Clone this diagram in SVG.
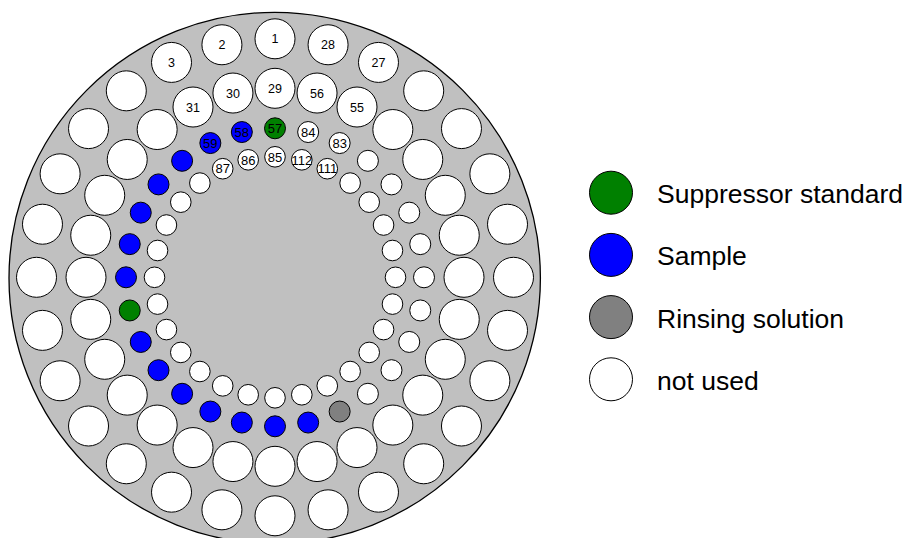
<svg xmlns="http://www.w3.org/2000/svg" width="905" height="538" viewBox="0 0 905 538">
<style>
circle{stroke:#000;stroke-width:1}
.w{fill:#fff}.b{fill:#0000ff}.g{fill:#008000}.r{fill:#808080}
.plate{fill:#c0c0c0;stroke:#000;stroke-width:1.3}
text{font-family:"Liberation Sans",Arial,sans-serif;fill:#000}
.n{font-size:12.5px;text-anchor:middle}
.s{font-size:13px;text-anchor:middle}
.lg{font-size:26.5px}
</style>
<rect width="905" height="538" fill="#fff"/>
<g id="plate"><circle class="plate" cx="274.7" cy="278" r="265.7"/></g>
<g id="ring1">
<g id="h1"><circle class="w" cx="275" cy="38.8" r="20"/><text class="n" x="275" y="43.3">1</text></g>
<g id="h2"><circle class="w" cx="221.93" cy="44.78" r="20"/><text class="n" x="221.93" y="49.3">2</text></g>
<g id="h3"><circle class="w" cx="171.52" cy="62.42" r="20"/><text class="n" x="171.52" y="66.9">3</text></g>
<g id="h4"><circle class="w" cx="126.3" cy="90.83" r="20"/></g>
<g id="h5"><circle class="w" cx="88.53" cy="128.6" r="20"/></g>
<g id="h6"><circle class="w" cx="60.12" cy="173.82" r="20"/></g>
<g id="h7"><circle class="w" cx="42.48" cy="224.23" r="20"/></g>
<g id="h8"><circle class="w" cx="36.5" cy="277.3" r="20"/></g>
<g id="h9"><circle class="w" cx="42.48" cy="330.37" r="20"/></g>
<g id="h10"><circle class="w" cx="60.12" cy="380.78" r="20"/></g>
<g id="h11"><circle class="w" cx="88.53" cy="426" r="20"/></g>
<g id="h12"><circle class="w" cx="126.3" cy="463.77" r="20"/></g>
<g id="h13"><circle class="w" cx="171.52" cy="492.18" r="20"/></g>
<g id="h14"><circle class="w" cx="221.93" cy="509.82" r="20"/></g>
<g id="h15"><circle class="w" cx="275" cy="515.8" r="20"/></g>
<g id="h16"><circle class="w" cx="328.07" cy="509.82" r="20"/></g>
<g id="h17"><circle class="w" cx="378.48" cy="492.18" r="20"/></g>
<g id="h18"><circle class="w" cx="423.7" cy="463.77" r="20"/></g>
<g id="h19"><circle class="w" cx="461.47" cy="426" r="20"/></g>
<g id="h20"><circle class="w" cx="489.88" cy="380.78" r="20"/></g>
<g id="h21"><circle class="w" cx="507.52" cy="330.37" r="20"/></g>
<g id="h22"><circle class="w" cx="513.5" cy="277.3" r="20"/></g>
<g id="h23"><circle class="w" cx="507.52" cy="224.23" r="20"/></g>
<g id="h24"><circle class="w" cx="489.88" cy="173.82" r="20"/></g>
<g id="h25"><circle class="w" cx="461.47" cy="128.6" r="20"/></g>
<g id="h26"><circle class="w" cx="423.7" cy="90.83" r="20"/></g>
<g id="h27"><circle class="w" cx="378.48" cy="62.42" r="20"/><text class="n" x="378.48" y="66.9">27</text></g>
<g id="h28"><circle class="w" cx="328.07" cy="44.78" r="20"/><text class="n" x="328.07" y="49.3">28</text></g>
</g>
<g id="ring2">
<g id="h29"><circle class="w" cx="275" cy="88.3" r="20"/><text class="n" x="275" y="92.8">29</text></g>
<g id="h30"><circle class="w" cx="232.94" cy="93.04" r="20"/><text class="n" x="232.94" y="97.5">30</text></g>
<g id="h31"><circle class="w" cx="193" cy="107.02" r="20"/><text class="n" x="193" y="111.5">31</text></g>
<g id="h32"><circle class="w" cx="157.16" cy="129.53" r="20"/></g>
<g id="h33"><circle class="w" cx="127.23" cy="159.46" r="20"/></g>
<g id="h34"><circle class="w" cx="104.72" cy="195.3" r="20"/></g>
<g id="h35"><circle class="w" cx="90.74" cy="235.24" r="20"/></g>
<g id="h36"><circle class="w" cx="86" cy="277.3" r="20"/></g>
<g id="h37"><circle class="w" cx="90.74" cy="319.36" r="20"/></g>
<g id="h38"><circle class="w" cx="104.72" cy="359.3" r="20"/></g>
<g id="h39"><circle class="w" cx="127.23" cy="395.14" r="20"/></g>
<g id="h40"><circle class="w" cx="157.16" cy="425.07" r="20"/></g>
<g id="h41"><circle class="w" cx="193" cy="447.58" r="20"/></g>
<g id="h42"><circle class="w" cx="232.94" cy="461.56" r="20"/></g>
<g id="h43"><circle class="w" cx="275" cy="466.3" r="20"/></g>
<g id="h44"><circle class="w" cx="317.06" cy="461.56" r="20"/></g>
<g id="h45"><circle class="w" cx="357" cy="447.58" r="20"/></g>
<g id="h46"><circle class="w" cx="392.84" cy="425.07" r="20"/></g>
<g id="h47"><circle class="w" cx="422.77" cy="395.14" r="20"/></g>
<g id="h48"><circle class="w" cx="445.28" cy="359.3" r="20"/></g>
<g id="h49"><circle class="w" cx="459.26" cy="319.36" r="20"/></g>
<g id="h50"><circle class="w" cx="464" cy="277.3" r="20"/></g>
<g id="h51"><circle class="w" cx="459.26" cy="235.24" r="20"/></g>
<g id="h52"><circle class="w" cx="445.28" cy="195.3" r="20"/></g>
<g id="h53"><circle class="w" cx="422.77" cy="159.46" r="20"/></g>
<g id="h54"><circle class="w" cx="392.84" cy="129.53" r="20"/></g>
<g id="h55"><circle class="w" cx="357" cy="107.02" r="20"/><text class="n" x="357" y="111.5">55</text></g>
<g id="h56"><circle class="w" cx="317.06" cy="93.04" r="20"/><text class="n" x="317.06" y="97.5">56</text></g>
</g>
<g id="ring3">
<g id="h57"><circle class="g" cx="275" cy="128.3" r="10.5"/><text class="s" x="275" y="133">57</text></g>
<g id="h58"><circle class="b" cx="241.84" cy="132.04" r="10.5"/><text class="s" x="241.84" y="136.7">58</text></g>
<g id="h59"><circle class="b" cx="210.35" cy="143.06" r="10.5"/><text class="s" x="210.35" y="147.7">59</text></g>
<g id="h60"><circle class="b" cx="182.1" cy="160.81" r="10.5"/></g>
<g id="h61"><circle class="b" cx="158.51" cy="184.4" r="10.5"/></g>
<g id="h62"><circle class="b" cx="140.76" cy="212.65" r="10.5"/></g>
<g id="h63"><circle class="b" cx="129.74" cy="244.14" r="10.5"/></g>
<g id="h64"><circle class="b" cx="126" cy="277.3" r="10.5"/></g>
<g id="h65"><circle class="g" cx="129.74" cy="310.46" r="10.5"/></g>
<g id="h66"><circle class="b" cx="140.76" cy="341.95" r="10.5"/></g>
<g id="h67"><circle class="b" cx="158.51" cy="370.2" r="10.5"/></g>
<g id="h68"><circle class="b" cx="182.1" cy="393.79" r="10.5"/></g>
<g id="h69"><circle class="b" cx="210.35" cy="411.54" r="10.5"/></g>
<g id="h70"><circle class="b" cx="241.84" cy="422.56" r="10.5"/></g>
<g id="h71"><circle class="b" cx="275" cy="426.3" r="10.5"/></g>
<g id="h72"><circle class="b" cx="308.16" cy="422.56" r="10.5"/></g>
<g id="h73"><circle class="r" cx="339.65" cy="411.54" r="10.5"/></g>
<g id="h74"><circle class="w" cx="367.9" cy="393.79" r="10.5"/></g>
<g id="h75"><circle class="w" cx="391.49" cy="370.2" r="10.5"/></g>
<g id="h76"><circle class="w" cx="409.24" cy="341.95" r="10.5"/></g>
<g id="h77"><circle class="w" cx="420.26" cy="310.46" r="10.5"/></g>
<g id="h78"><circle class="w" cx="424" cy="277.3" r="10.5"/></g>
<g id="h79"><circle class="w" cx="420.26" cy="244.14" r="10.5"/></g>
<g id="h80"><circle class="w" cx="409.24" cy="212.65" r="10.5"/></g>
<g id="h81"><circle class="w" cx="391.49" cy="184.4" r="10.5"/></g>
<g id="h82"><circle class="w" cx="367.9" cy="160.81" r="10.5"/></g>
<g id="h83"><circle class="w" cx="339.65" cy="143.06" r="10.5"/><text class="s" x="339.65" y="147.7">83</text></g>
<g id="h84"><circle class="w" cx="308.16" cy="132.04" r="10.5"/><text class="s" x="308.16" y="136.7">84</text></g>
</g>
<g id="ring4">
<g id="h85"><circle class="w" cx="275" cy="156.8" r="10.3"/><text class="s" x="275" y="161.5">85</text></g>
<g id="h86"><circle class="w" cx="248.19" cy="159.82" r="10.3"/><text class="s" x="248.19" y="164.5">86</text></g>
<g id="h87"><circle class="w" cx="222.72" cy="168.73" r="10.3"/><text class="s" x="222.72" y="173.4">87</text></g>
<g id="h88"><circle class="w" cx="199.87" cy="183.09" r="10.3"/></g>
<g id="h89"><circle class="w" cx="180.79" cy="202.17" r="10.3"/></g>
<g id="h90"><circle class="w" cx="166.43" cy="225.02" r="10.3"/></g>
<g id="h91"><circle class="w" cx="157.52" cy="250.49" r="10.3"/></g>
<g id="h92"><circle class="w" cx="154.5" cy="277.3" r="10.3"/></g>
<g id="h93"><circle class="w" cx="157.52" cy="304.11" r="10.3"/></g>
<g id="h94"><circle class="w" cx="166.43" cy="329.58" r="10.3"/></g>
<g id="h95"><circle class="w" cx="180.79" cy="352.43" r="10.3"/></g>
<g id="h96"><circle class="w" cx="199.87" cy="371.51" r="10.3"/></g>
<g id="h97"><circle class="w" cx="222.72" cy="385.87" r="10.3"/></g>
<g id="h98"><circle class="w" cx="248.19" cy="394.78" r="10.3"/></g>
<g id="h99"><circle class="w" cx="275" cy="397.8" r="10.3"/></g>
<g id="h100"><circle class="w" cx="301.81" cy="394.78" r="10.3"/></g>
<g id="h101"><circle class="w" cx="327.28" cy="385.87" r="10.3"/></g>
<g id="h102"><circle class="w" cx="350.13" cy="371.51" r="10.3"/></g>
<g id="h103"><circle class="w" cx="369.21" cy="352.43" r="10.3"/></g>
<g id="h104"><circle class="w" cx="383.57" cy="329.58" r="10.3"/></g>
<g id="h105"><circle class="w" cx="392.48" cy="304.11" r="10.3"/></g>
<g id="h106"><circle class="w" cx="395.5" cy="277.3" r="10.3"/></g>
<g id="h107"><circle class="w" cx="392.48" cy="250.49" r="10.3"/></g>
<g id="h108"><circle class="w" cx="383.57" cy="225.02" r="10.3"/></g>
<g id="h109"><circle class="w" cx="369.21" cy="202.17" r="10.3"/></g>
<g id="h110"><circle class="w" cx="350.13" cy="183.09" r="10.3"/></g>
<g id="h111"><circle class="w" cx="327.28" cy="168.73" r="10.3"/><text class="s" x="327.28" y="173.4">111</text></g>
<g id="h112"><circle class="w" cx="301.81" cy="159.82" r="10.3"/><text class="s" x="301.81" y="164.5">112</text></g>
</g>
<g id="legend">
<g id="leg-suppressor"><circle class="g" cx="611" cy="192.7" r="21.5"/><text class="lg" x="657" y="203.3">Suppressor standard</text></g>
<g id="leg-sample"><circle class="b" cx="611" cy="254.9" r="21.5"/><text class="lg" x="657" y="265.4">Sample</text></g>
<g id="leg-rinsing"><circle class="r" cx="611" cy="317.1" r="21.5"/><text class="lg" x="657" y="327.6">Rinsing solution</text></g>
<g id="leg-notused"><circle class="w" cx="611" cy="379.3" r="21.5"/><text class="lg" x="657" y="389.8">not used</text></g>
</g>
</svg>
